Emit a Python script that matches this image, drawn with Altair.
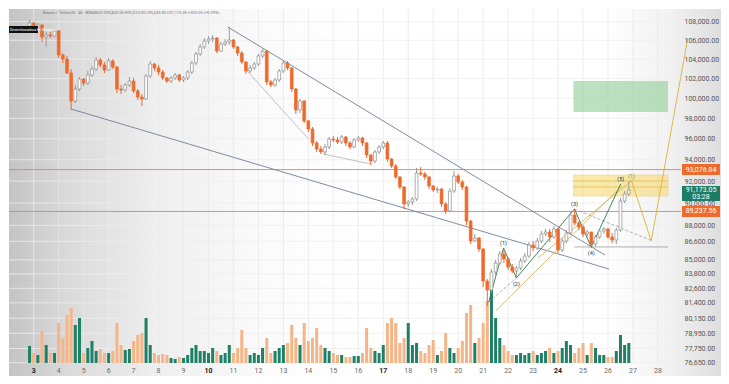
import altair as alt
import pandas as pd

# ---------------- data (BTC/USDT, 4h candles, Nov 2025) ----------------
first_open = 107530
close = [107860, 107320, 107640, 106350, 106565, 106460, 107000, 104440, 104020, 102570,
         99720, 100930, 101950, 101540, 102360, 102980, 103920, 103400, 102880, 103820,
         103190, 100930, 100830, 101340, 101750, 100730, 100125, 99920, 102260, 103500,
         103090, 102670, 102060, 101750, 102060, 102360, 101850, 102060, 102670, 103610,
         104550, 105290, 105920, 106130, 106240, 104860, 105600, 105820, 106030, 105290,
         104650, 103710, 102780, 103090, 103500, 104340, 104860, 101650, 101340, 101850,
         102780, 103610, 103090, 100930, 98820, 99720, 97740, 96950, 95600, 95020,
         94740, 95215, 95980, 95890, 95695, 96180, 95600, 95215, 95890, 96080,
         95600, 94450, 93880, 94740, 95215, 95600, 94070, 93410, 92385, 91460,
         89910, 90090, 90365, 92760, 92665, 92385, 91550, 91185, 91275, 89910,
         89280, 91090, 92480, 91920, 91460, 88385, 86625, 86890, 85930, 83210,
         82460, 83970, 84730, 85500, 85070, 84390, 84050, 84305, 84900, 85330,
         86280, 86020, 86625, 87240, 87415, 86975, 87680, 85845, 86625, 87330,
         88920, 88210, 87855, 87240, 87415, 86365, 86975, 87500, 87680, 86975,
         86715, 87590, 90180, 90820, 91173.05]
high = [108180, 107970, 107860, 107750, 106890, 106890, 107210, 107100, 104650, 104340,
        102980, 101340, 102160, 102060, 102780, 103290, 104230, 104130, 103710, 104130,
        104020, 103290, 101340, 101540, 102160, 102060, 100930, 100430, 102470, 103815,
        103610, 103400, 102880, 102160, 102260, 102570, 102470, 102260, 102880, 103815,
        104760, 105600, 106240, 106460, 106565, 106350, 105820, 106130, 107430, 106130,
        105390, 104860, 103815, 103400, 103710, 104550, 105080, 104970, 101850, 102060,
        102980, 103815, 103815, 103190, 101040, 99920, 99820, 97840, 97150, 95790,
        95310, 95500, 96180, 96270, 96180, 96370, 96270, 95790, 96080, 96270,
        96180, 95695, 94550, 94930, 95405, 95790, 95790, 94170, 93600, 92480,
        91550, 90270, 90545, 93225, 93320, 92850, 92480, 91645, 91460, 91370,
        90090, 91370, 92945, 92665, 92105, 91550, 88475, 87240, 86975, 86020,
        83380, 84220, 84985, 85760, 85930, 85245, 84645, 84475, 85160, 85590,
        86540, 86625, 86890, 87500, 87680, 87680, 87940, 87765, 86890, 87590,
        89190, 89370, 88385, 88030, 87590, 87415, 87150, 87680, 87855, 87765,
        87330, 87765, 90455, 91090, 92010]
low = [107320, 107100, 107210, 105820, 105290, 106245, 106350, 104130, 103610, 102470,
       98820, 99520, 100730, 101240, 101340, 102160, 102780, 103190, 102570, 102780,
       102980, 100530, 100430, 100630, 101140, 100530, 99820, 99220, 99820, 102060,
       102780, 102360, 101850, 101540, 101540, 101850, 101650, 101650, 101850, 102470,
       103400, 104340, 105080, 105600, 105820, 104650, 104760, 105390, 105500, 105080,
       104340, 103500, 102470, 102570, 102880, 103290, 104130, 101340, 101140, 101140,
       101650, 102570, 102880, 100630, 98430, 98530, 97540, 96660, 95310, 94740,
       94550, 94450, 95020, 95695, 95500, 95500, 95310, 95020, 95120, 95695,
       95310, 94170, 93510, 93700, 94550, 95020, 93790, 93230, 92200, 91275,
       89460, 89640, 89820, 90180, 92480, 92105, 91275, 91000, 90910, 89640,
       89010, 89190, 90910, 91735, 91185, 88030, 86365, 86540, 85675, 82710,
       81150, 82210, 83715, 84560, 84730, 84135, 83885, 83545, 84135, 84730,
       85160, 85760, 85845, 86450, 87060, 86540, 86800, 85590, 85675, 86450,
       87150, 88030, 87590, 86975, 86890, 86020, 86190, 86800, 87240, 86800,
       86450, 86365, 87415, 90000, 90635]
volume = [17, 10, 8, 32, 18, 10, 10, 40, 25, 48,
          55, 38, 45, 10, 15, 22, 12, 14, 10, 10,
          12, 40, 18, 13, 14, 22, 28, 30, 45, 18,
          10, 8, 9, 8, 5, 4, 6, 5, 8, 15,
          18, 12, 12, 10, 15, 12, 8, 10, 18, 10,
          15, 33, 15, 8, 10, 8, 15, 25, 10, 12,
          15, 18, 20, 38, 25, 18, 40, 22, 25, 35,
          18, 15, 12, 10, 8, 8, 6, 6, 7, 7,
          10, 35, 15, 12, 10, 18, 40, 45, 40, 20,
          25, 40, 18, 20, 12, 10, 18, 23, 8, 12,
          30, 15, 10, 15, 22, 50, 58, 20, 25, 40,
          62, 77, 45, 25, 18, 12, 8, 8, 10, 8,
          10, 12, 8, 10, 12, 15, 10, 12, 15, 22,
          18, 10, 15, 20, 8, 20, 15, 8, 8, 6,
          6, 12, 28, 18, 20]
candle_start_day = 2 + 20 / 24   # 2 Nov, 20:00
candle_hours = 4

day_ticks = list(range(3, 29))
week_starts = [3, 10, 17, 24]
price_ticks = [108000, 106000, 104000, 102000, 100000, 98000, 96000, 94000, 92000,
               90000, 88000, 86600, 85000, 83800, 82600, 81400, 80150, 78950, 77750, 76650]

level_upper = 93076.84
level_lower = 89237.56
last_price = 91173.05
countdown = "03:28"
legend_line = "Bitcoin / TetherUS · 4h · BINANCE    O90,820.00  H92,010.00  L90,635.00  C91,173.05  +353.05 (+0.39%)"

# drawings (day-of-month, price)
channel_upper = [(10.771, 107430), (25.880, 85415)]
channel_lower = [(4.499, 98920), (26.038, 84220)]
wedge_a = [(11.481, 102980), (14.006, 95980)]
wedge_b = [(14.598, 94550), (16.491, 93600)]
wave_path = [(21.225, 81470), (21.817, 86020), (22.330, 83460), (24.657, 89460),
             (25.328, 86100), (26.511, 91740)]
dashed_a = [(21.225, 81470), (22.330, 83460)]
dashed_b = [(24.657, 89460), (27.700, 86700)]
khaki_a = [(21.501, 80738), (26.550, 91553)]
khaki_b = [(23.197, 85160), (27.024, 92200)]
projection = [(26.945, 92010), (27.734, 86630), (29.190, 106140)]
support_line = [(24.657, 86110), (28.404, 86110)]
green_zone = (24.617, 28.404, 98625, 101750)
yellow_zone = (24.617, 28.404, 90637, 92570)
yellow_zone_lines = [92010, 91460]
labels_above = [("(1)", 21.817, 86020), ("(3)", 24.657, 89460), ("(5)", 26.511, 91740)]
labels_below = [("(2)", 22.330, 83460), ("(4)", 25.328, 86100)]
label_yellow = [("(1)", 26.945, 92010)]

# ---------------- layout ----------------
W, H = 672, 354
X_DOM = [2.211, 28.724]
Y_DOM = [76624, 109388]
xs = alt.Scale(domain=X_DOM, nice=False, zero=False)
ys = alt.Scale(type="log", domain=Y_DOM, nice=False)

opens = [first_open] + close[:-1]
df = pd.DataFrame({
    "t": [candle_start_day + i * candle_hours / 24 for i in range(len(close))],
    "open": opens, "high": high, "low": low, "close": close, "vol": volume,
})
UP = "datum.close >= datum.open"
ORANGE = "#ee6a2c"
XQ = dict(scale=xs, axis=None)


def seg_df(points, name="a"):
    return pd.DataFrame({"t": [p[0] for p in points], "p": [p[1] for p in points],
                         "id": [name] * len(points)})


def line(points, color, width=1.0, dash=None, opacity=1.0):
    kw = dict(color=color, strokeWidth=width, opacity=opacity)
    if dash:
        kw["strokeDash"] = dash
    return alt.Chart(seg_df(points)).mark_line(**kw).encode(
        x=alt.X("t:Q", **XQ), y=alt.Y("p:Q", scale=ys, axis=None))


one = pd.DataFrame({"k": [0]})

bg = alt.Chart(one).mark_rect(
    fill=alt.LinearGradient(
        gradient="linear", x1=0, x2=1, y1=0, y2=0,
        stops=[alt.GradientStop(color="#c4c4c4", offset=0),
               alt.GradientStop(color="#d9d9d9", offset=0.08),
               alt.GradientStop(color="#eeeeee", offset=0.2),
               alt.GradientStop(color="#fbfbfb", offset=0.36),
               alt.GradientStop(color="#ffffff", offset=0.5),
               alt.GradientStop(color="#ffffff", offset=0.84),
               alt.GradientStop(color="#f1f1f1", offset=0.93),
               alt.GradientStop(color="#dedede", offset=1)])
).encode(x=alt.value(0), x2=alt.value(W + 40), y=alt.value(0), y2=alt.value(H + 13))

vgrid = alt.Chart(pd.DataFrame({"d": day_ticks})).mark_rule(color="#e8e8e8", strokeWidth=0.8).encode(
    x=alt.X("d:Q", **XQ), y=alt.value(0), y2=alt.value(H))
hgrid = alt.Chart(pd.DataFrame({"p": price_ticks})).mark_rule(color="#ededed", strokeWidth=0.8).encode(
    y=alt.Y("p:Q", scale=ys, axis=None), x=alt.value(0), x2=alt.value(W))

vol = alt.Chart(df).mark_bar(size=3).encode(
    x=alt.X("t:Q", **XQ),
    y=alt.Y("vol:Q", scale=alt.Scale(domain=[0, 354]), axis=None),
    color=alt.condition(UP, alt.value("#1f8068"), alt.value("#f5b586")))

green_box = alt.Chart(pd.DataFrame({"t0": [green_zone[0]], "t1": [green_zone[1]],
                                    "p0": [green_zone[2]], "p1": [green_zone[3]]})).mark_rect(
    color="#8fcd98", opacity=0.6).encode(
    x=alt.X("t0:Q", **XQ), x2="t1:Q",
    y=alt.Y("p0:Q", scale=ys, axis=None), y2="p1:Q")
yellow_box = alt.Chart(pd.DataFrame({"t0": [yellow_zone[0]], "t1": [yellow_zone[1]],
                                     "p0": [yellow_zone[2]], "p1": [yellow_zone[3]]})).mark_rect(
    color="#f7d866", opacity=0.55, stroke="#e6c24f", strokeWidth=0.8).encode(
    x=alt.X("t0:Q", **XQ), x2="t1:Q",
    y=alt.Y("p0:Q", scale=ys, axis=None), y2="p1:Q")
yellow_inner = alt.Chart(pd.DataFrame({"p": yellow_zone_lines, "t0": [yellow_zone[0]] * 2,
                                       "t1": [yellow_zone[1]] * 2})).mark_rule(
    color="#e3c04c", strokeWidth=0.8).encode(
    y=alt.Y("p:Q", scale=ys, axis=None), x=alt.X("t0:Q", **XQ), x2="t1:Q")

levels = alt.Chart(pd.DataFrame({"p": [level_upper, level_lower]})).mark_rule(
    color="#e67c4f", strokeWidth=1, opacity=0.85).encode(
    y=alt.Y("p:Q", scale=ys, axis=None), x=alt.value(0), x2=alt.value(W))

drawings = [
    line(channel_upper, "#6f7f99", 0.9),
    line(channel_lower, "#6f7f99", 0.9),
    line(wedge_a, "#a9b2bd", 0.8),
    line(wedge_b, "#a9b2bd", 0.8),
    line(support_line, "#9a9a9a", 0.8),
    line(dashed_a, "#9a9a9a", 0.8, [3, 2]),
    line(dashed_b, "#9a9a9a", 0.8, [3, 2]),
    line(khaki_a, "#d3b865", 0.9),
    line(khaki_b, "#d3b865", 0.9),
    line(wave_path, "#2f7b4c", 0.9),
    line(projection, "#d9b33a", 0.9),
]

wick = alt.Chart(df).mark_rule(strokeWidth=1).encode(
    x=alt.X("t:Q", **XQ),
    y=alt.Y("low:Q", scale=ys, axis=None), y2="high:Q",
    color=alt.condition(UP, alt.value("#9a9a9a"), alt.value(ORANGE)))

body = alt.Chart(df).mark_bar(size=2.8, strokeWidth=0.7).encode(
    x=alt.X("t:Q", **XQ),
    y=alt.Y("open:Q", scale=ys, axis=alt.Axis(
        orient="right", values=price_ticks, format=",.2f", grid=False, ticks=False, zindex=1,
        domain=False, labelFont="Roboto", labelFontSize=7, labelColor="#555555",
        labelPadding=3, labelOverlap=False, title=None)),
    y2="close:Q",
    fill=alt.condition(UP, alt.value("#ffffff"), alt.value(ORANGE)),
    stroke=alt.condition(UP, alt.value("#8c8c8c"), alt.value(ORANGE)))

# date labels along the bottom
day_df = pd.DataFrame({"d": day_ticks, "bold": [d in week_starts for d in day_ticks]})
day_plain = alt.Chart(day_df).transform_filter("!datum.bold").mark_text(
    fontSize=7, font="Roboto", color="#6a6a6a", baseline="middle").encode(
    x=alt.X("d:Q", **XQ), y=alt.value(H + 8), text=alt.Text("d:Q", format="d"))
day_bold = alt.Chart(day_df).transform_filter("datum.bold").mark_text(
    fontSize=7, font="Roboto", color="#222222", fontWeight="bold", baseline="middle").encode(
    x=alt.X("d:Q", **XQ), y=alt.value(H + 8), text=alt.Text("d:Q", format="d"))


def labels(items, dy, color="#333333"):
    d = pd.DataFrame({"txt": [i[0] for i in items], "t": [i[1] for i in items], "p": [i[2] for i in items]})
    return alt.Chart(d).mark_text(fontSize=5.5, font="Roboto", color=color, dy=dy).encode(
        x=alt.X("t:Q", **XQ), y=alt.Y("p:Q", scale=ys, axis=None), text="txt:N")


wave_labels = [labels(labels_above, -5), labels(labels_below, 6), labels(label_yellow, -5, "#a8862a")]

# price tags on the scale
tag_x = W + 20


def tag(price, color, thickness, yoff=0.0):
    return alt.Chart(pd.DataFrame({"p": [price]})).mark_tick(
        orient="horizontal", thickness=thickness, size=38, color=color, opacity=1, yOffset=yoff).encode(
        x=alt.value(tag_x), y=alt.Y("p:Q", scale=ys, axis=None))


def tag_text(price, txt, yoff=0.0):
    return alt.Chart(pd.DataFrame({"p": [price], "s": [txt]})).mark_text(
        color="white", fontSize=7, font="Roboto", align="center", baseline="middle", yOffset=yoff).encode(
        x=alt.value(tag_x), y=alt.Y("p:Q", scale=ys, axis=None), text="s:N")


tags = [
    tag(level_upper, "#ef6b2d", 11), tag_text(level_upper, f"{level_upper:,.2f}"),
    tag(last_price, "#1c7c64", 15, 3.5), tag_text(last_price, f"{last_price:,.2f}", -0.5),
    tag_text(last_price, countdown, 6.5),
    tag(level_lower, "#ef6b2d", 11), tag_text(level_lower, f"{level_lower:,.2f}"),
]

legend_txt = alt.Chart(one).mark_text(text=legend_line, fontSize=4, color="#777777",
                                      align="left", baseline="middle", font="Roboto").encode(
    x=alt.value(34), y=alt.value(4))
note_box = alt.Chart(one).mark_rect(color="#111111").encode(
    x=alt.value(0), x2=alt.value(29), y=alt.value(17), y2=alt.value(24))
note_txt = alt.Chart(one).mark_text(text="Desembocadura En Diagonal", fontSize=3.6, color="white",
                                    align="left", baseline="middle", font="Roboto").encode(
    x=alt.value(1), y=alt.value(20.5))

chart = alt.layer(
    bg, vgrid, hgrid, vol, green_box, yellow_box, yellow_inner, levels,
    *drawings, wick, body, day_plain, day_bold, *wave_labels, *tags, legend_txt, note_box, note_txt
).resolve_scale(y="independent").properties(
    width=W, height=H, padding=0, background="white"
).configure_view(stroke=None)

chart.save("out.html", embed_options={"renderer": "svg", "actions": False})
